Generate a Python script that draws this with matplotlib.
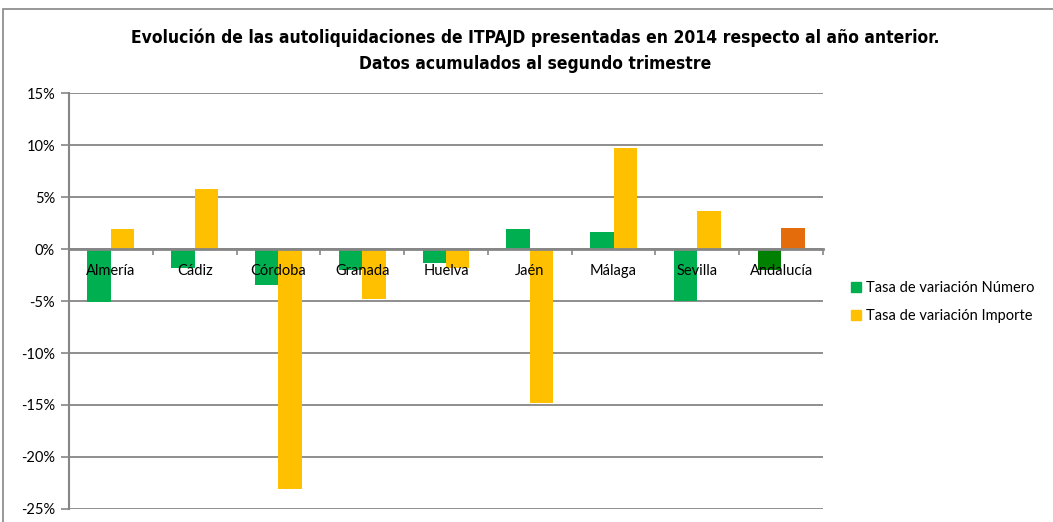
import matplotlib
matplotlib.use("Agg")
import matplotlib.pyplot as plt
import numpy as np
from matplotlib.patches import Rectangle, Patch
from matplotlib.ticker import FuncFormatter
from matplotlib import font_manager

provincias = ["Almería", "Cádiz", "Córdoba", "Granada", "Huelva",
              "Jaén", "Málaga", "Sevilla", "Andalucía"]
tasa_numero = [-5.1, -1.8, -3.5, -2.0, -1.3, 1.9, 1.6, -5.0, -2.0]
tasa_importe = [1.9, 5.8, -23.1, -4.8, -1.8, -14.8, 9.7, 3.7, 2.0]
titulo = ("Evolución de las autoliquidaciones de ITPAJD presentadas en 2014 respecto al año anterior.\n"
          "Datos acumulados al segundo trimestre")
leyenda = ["Tasa de variación Número", "Tasa de variación Importe"]

plt.rcParams["font.family"] = ["Lato", "DejaVu Sans"]

# condensed bold font for the title if one is around
narrow = [f.name for f in font_manager.fontManager.ttflist
          if "Narrow" in f.name or "Condensed" in f.name]
print(sorted(set(narrow)))
print(sorted(set((f.name, f.stretch) for f in font_manager.fontManager.ttflist if f.name.startswith("DejaVu"))))

verde, amarillo = "#00B050", "#FFC000"
verde_total, naranja_total = "#008000", "#E46C0A"
gris = "#868686"

fig = plt.figure(figsize=(10.53, 5.22), dpi=100)
ax = fig.add_axes([69 / 1053, 1 - 509 / 522, (823 - 69) / 1053, (509 - 93) / 522])

x = np.arange(len(provincias))
w = 0.28
col_num = [verde] * (len(provincias) - 1) + [verde_total]
col_imp = [amarillo] * (len(provincias) - 1) + [naranja_total]
ax.bar(x - w / 2, tasa_numero, w, color=col_num, zorder=2)
ax.bar(x + w / 2, tasa_importe, w, color=col_imp, zorder=2)

ax.set_xlim(-0.5, len(provincias) - 0.5)
ax.set_ylim(-25, 15)
ax.set_yticks(np.arange(-25, 16, 5))
ax.yaxis.set_major_formatter(FuncFormatter(lambda v, p: f"{v:.0f}%"))
ax.grid(True, axis="y", color=gris, lw=1.3)
ax.set_axisbelow(True)

for s in ["top", "right"]:
    ax.spines[s].set_visible(False)
ax.spines["left"].set_color(gris)
ax.spines["left"].set_linewidth(1.5)
ax.spines["bottom"].set_position(("data", 0))
ax.spines["bottom"].set_color(gris)
ax.spines["bottom"].set_linewidth(2)
ax.spines["bottom"].set_zorder(3)

ax.set_xticks(np.arange(-0.5, len(provincias), 1))
ax.set_xticklabels([])
ax.tick_params(axis="x", direction="out", length=4, color=gris, width=1.2)
ax.tick_params(axis="y", length=6, color=gris, width=1.2, labelsize=10.5, pad=4)

for i, p in enumerate(provincias):
    ax.text(i, -2.1, p, ha="center", va="center", fontsize=10.5, zorder=5)

fig.text(535 / 1053, 1 - 51 / 522, titulo, ha="center", va="center",
         fontsize=12.5, fontweight="bold", linespacing=1.55,
         fontstretch="condensed",
         family=["DejaVu Sans"])

handles = [Patch(color=verde), Patch(color=amarillo)]
fig.legend(handles, leyenda, loc="center left", bbox_to_anchor=(838 / 1053, 1 - 302 / 522),
           frameon=False, fontsize=10.5, handlelength=0.7, handleheight=0.7,
           handletextpad=0.3, labelspacing=1.0)

fig.patches.append(Rectangle((3 / 1053, -0.05), 1.2, 1 - 9 / 522 + 0.05,
                             transform=fig.transFigure, fill=False,
                             edgecolor=gris, lw=1.2))

fig.savefig("out.png", dpi=100)
